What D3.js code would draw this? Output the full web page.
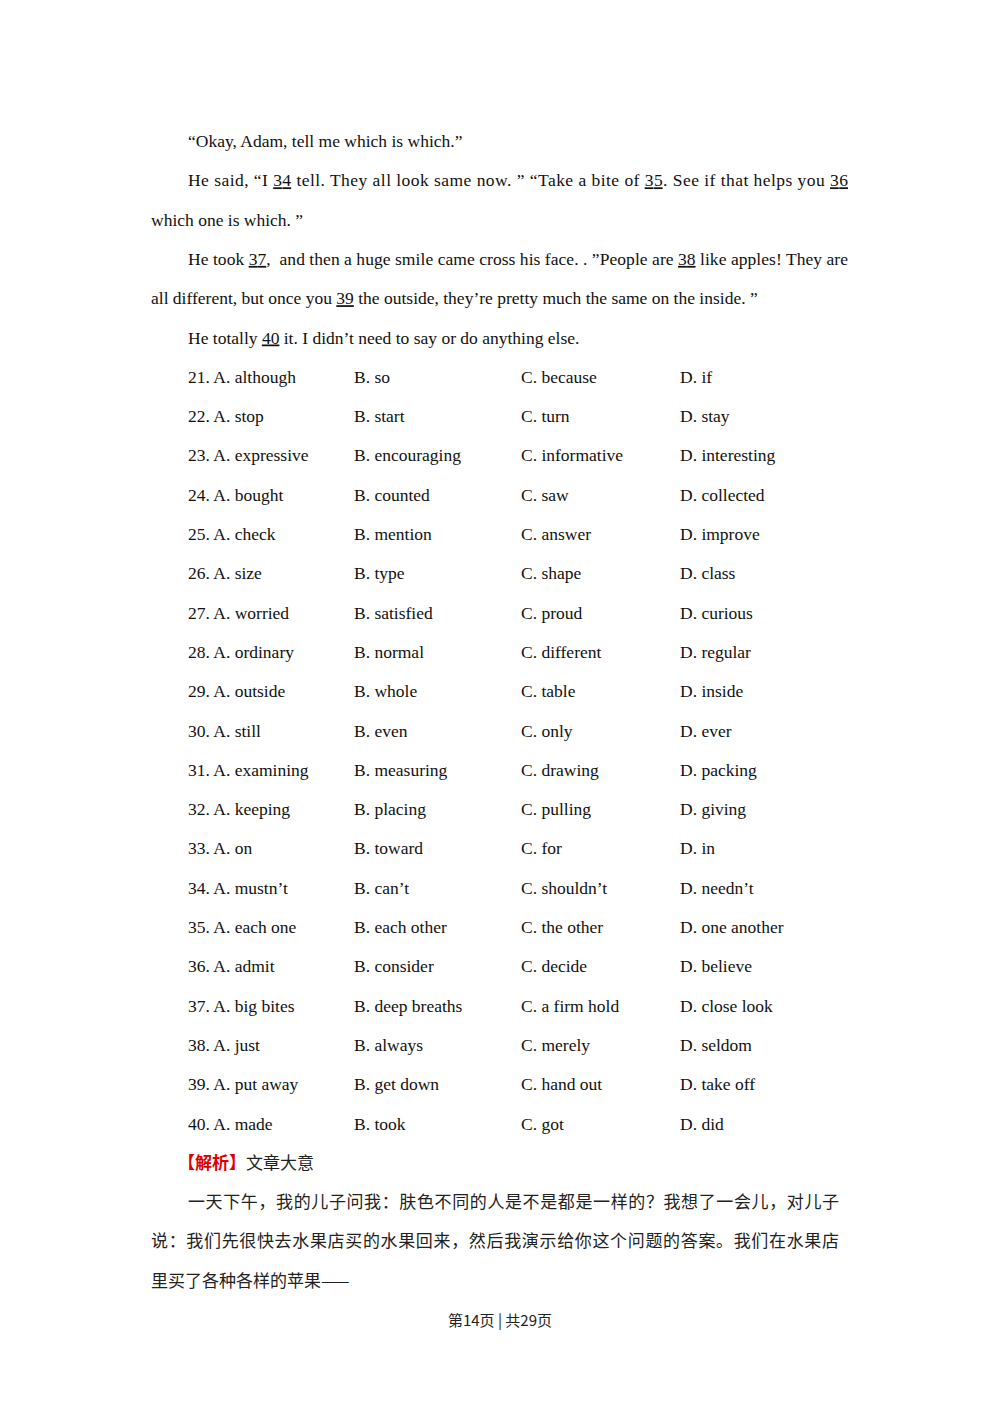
<!DOCTYPE html>
<html><head><meta charset="utf-8">
<script src="https://cdn.jsdelivr.net/npm/d3@7"></script>
<style>body{margin:0;background:#fff}</style></head>
<body><svg id="s" width="1000" height="1414"></svg>
<script>
// paragraph lines: [indent, justified, segments] ; segment "_" prefix means underlined
const passage = [
  [true,false,["“Okay, Adam, tell me which is which.”"]],
  [true,true,["He said, “I ","_34"," tell. They all look same now. ” “Take a bite of ","_35",". See if that helps you ","_36"]],
  [false,false,["which one is which. ”"]],
  [true,true,["He took ","_37",",  and then a huge smile came cross his face. . ”People are ","_38"," like apples! They are"]],
  [false,false,["all different, but once you ","_39"," the outside, they’re pretty much the same on the inside. ”"]],
  [true,false,["He totally ","_40"," it. I didn’t need to say or do anything else."]]
];
const qNums = d3.range(21,41);
const optA = ["although","stop","expressive","bought","check","size","worried","ordinary","outside","still","examining","keeping","on","mustn’t","each one","admit","big bites","just","put away","made"];
const optB = ["so","start","encouraging","counted","mention","type","satisfied","normal","whole","even","measuring","placing","toward","can’t","each other","consider","deep breaths","always","get down","took"];
const optC = ["because","turn","informative","saw","answer","shape","proud","different","table","only","drawing","pulling","for","shouldn’t","the other","decide","a firm hold","merely","hand out","got"];
const optD = ["if","stay","interesting","collected","improve","class","curious","regular","inside","ever","packing","giving","in","needn’t","one another","believe","close look","seldom","take off","did"];
const analysisTitle = ["【解析】","文章大意"];
const analysisLines = [
  "一天下午，我的儿子问我：肤色不同的人是不是都是一样的？我想了一会儿，对儿子",
  "说：我们先很快去水果店买的水果回来，然后我演示给你这个问题的答案。我们在水果店",
  "里买了各种各样的苹果——"
];
const footer = ["第14页 | 共29页"];

const svg = d3.select("#s");
const serif = "'Liberation Serif','Times New Roman',serif";
const cjk = "'Noto Sans CJK SC',sans-serif";
const lineY = d3.scaleLinear().domain([0,1]).range([147,186.3]);
const left = 151, indentX = 188, right = 848;

passage.forEach((p,i)=>{
  const t = svg.append("text").attr("x", p[0]?indentX:left).attr("y", lineY(i))
    .attr("font-family", serif).attr("font-size", 17.5).attr("fill","#111")
    .attr("xml:space","preserve").style("white-space","pre");
  p[2].forEach(s=>{
    const u = s.startsWith("_");
    t.append("tspan").text(u?s.slice(1):s).attr("text-decoration", u?"underline":null);
  });
  if (p[1]) t.attr("textLength", right-indentX).attr("lengthAdjust","spacing");
});

const colX = d3.scalePoint().domain(["q","B","C","D"]).range([188,680]);
const xs = {q:188,B:354,C:521,D:680};
qNums.forEach((q,i)=>{
  const y = lineY(6+i);
  const g = svg.append("g").attr("font-family", serif).attr("font-size", 17.5).attr("fill","#111");
  g.append("text").attr("x", xs.q).attr("y", y).text(`${q}. A. ${optA[i]}`);
  g.append("text").attr("x", xs.B).attr("y", y).text(`B. ${optB[i]}`);
  g.append("text").attr("x", xs.C).attr("y", y).text(`C. ${optC[i]}`);
  g.append("text").attr("x", xs.D).attr("y", y).text(`D. ${optD[i]}`);
});

const ty = lineY(26);
const tt = svg.append("text").attr("x", 178).attr("y", ty).attr("font-family", cjk).attr("font-size", 17);
tt.append("tspan").text(analysisTitle[0]).attr("fill","#e00000").attr("font-weight","bold");
tt.append("tspan").text(analysisTitle[1]).attr("fill","#222");

analysisLines.forEach((l,i)=>{
  const t = svg.append("text").attr("x", i===0?188:151).attr("y", lineY(27+i))
    .attr("font-family", cjk).attr("font-size", 17).attr("fill","#222").text(l);
  if (i<2) t.attr("textLength", 839-(i===0?188:151)).attr("lengthAdjust","spacing");
});

svg.append("text").attr("x",500).attr("y",1326).attr("text-anchor","middle")
  .attr("font-family", cjk).attr("font-size",15).attr("fill","#222").text(footer[0]);
</script></body></html>
